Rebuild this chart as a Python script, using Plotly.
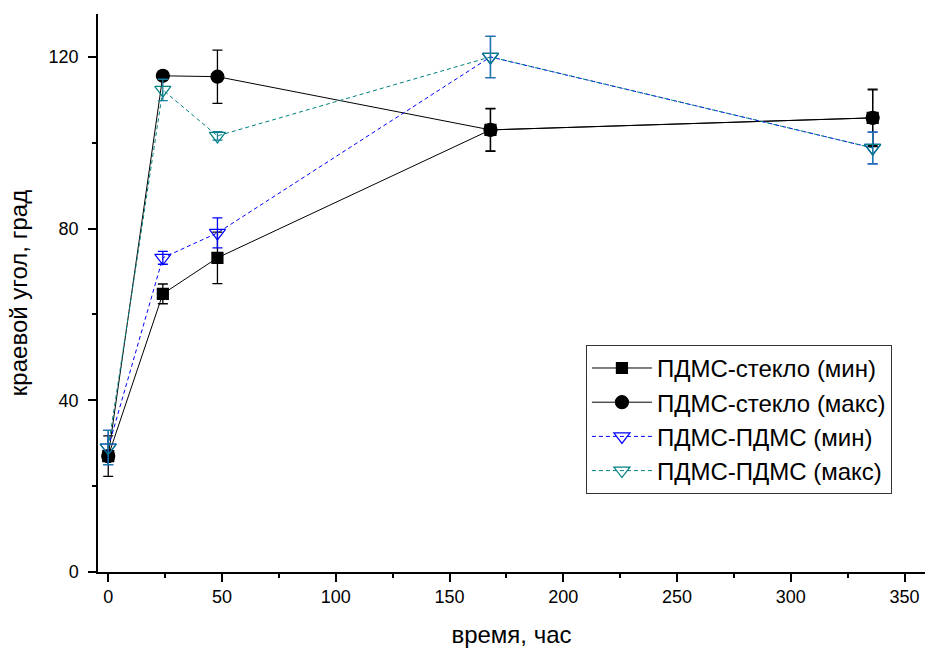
import plotly.graph_objects as go

hours = [0, 24, 48, 168, 336]

glass_min = [27.0, 64.8, 73.2, 103.0, 105.8]
glass_min_err = [4.7, 2.3, 6.0, 5.0, 6.5]

glass_max = [27.0, 115.6, 115.4, 103.0, 105.8]
glass_max_err = [1.0, 1.0, 6.2, 4.9, 6.7]

pdms_min = [29.0, 73.2, 79.0, 120.0, 98.8]
pdms_min_err = [4.0, 1.5, 3.5, 4.8, 3.7]

pdms_max = [29.0, 112.3, 101.6, 120.0, 98.8]
pdms_max_err = [4.0, 2.5, 1.0, 4.8, 3.7]

names = ["ПДМС-стекло (мин)", "ПДМС-стекло (макс)", "ПДМС-ПДМС (мин)", "ПДМС-ПДМС (макс)"]

fig = go.Figure()

def add(y, err, name, color, symbol, size, dash, errcolor, fill):
    fig.add_trace(go.Scatter(
        x=hours, y=y, name=name, mode="lines+markers",
        line=dict(color=color, width=1, dash=dash),
        marker=dict(symbol=symbol, size=size, color=fill,
                    line=dict(color=color, width=1.2)),
        error_y=dict(type="data", array=err, visible=True, color=errcolor,
                     thickness=1.3, width=5),
    ))

add(glass_min, glass_min_err, names[0], "black", "square", 11, "solid", "black", "black")
add(glass_max, glass_max_err, names[1], "black", "circle", 13, "solid", "black", "black")
add(pdms_min, pdms_min_err, names[2], "#0000ff", "triangle-down", 14, "4px,3px", "#0000ff", "rgba(255,255,255,0)")
add(pdms_max, pdms_max_err, names[3], "#008080", "triangle-down", 14, "4px,3px", "#1a7f9f", "rgba(255,255,255,0)")

font = "Liberation Sans, Arial, sans-serif"

fig.update_layout(
    width=928, height=648,
    margin=dict(l=98, r=3, t=14, b=76),
    paper_bgcolor="white", plot_bgcolor="white",
    font=dict(family=font, color="black", size=18),
    showlegend=True,
    legend=dict(
        x=0.59, y=0.407, xanchor="left", yanchor="top",
        bgcolor="white", bordercolor="#333333", borderwidth=1,
        font=dict(size=24, family=font, color="black"),
        tracegroupgap=0, itemwidth=60,
    ),
)

fig.update_xaxes(
    range=[-4.5, 359], showline=True, linecolor="black", linewidth=1.5,
    ticks="outside", ticklen=8, tickwidth=1.5, tickcolor="black",
    tickvals=[0, 50, 100, 150, 200, 250, 300, 350],
    minor=dict(ticks="outside", ticklen=4, tickwidth=1.5, tickcolor="black", dtick=25, tick0=0, showgrid=False),
    showgrid=False, zeroline=False,
    title=dict(text="время, час", font=dict(size=24), standoff=20),
    tickfont=dict(size=18),
)
fig.update_yaxes(
    range=[0, 130], showline=True, linecolor="black", linewidth=1.5,
    ticks="outside", ticklen=8, tickwidth=1.5, tickcolor="black",
    tickvals=[0, 40, 80, 120],
    minor=dict(ticks="outside", ticklen=4, tickwidth=1.5, tickcolor="black", dtick=20, tick0=0, showgrid=False),
    showgrid=False, zeroline=False,
    ticklabelstandoff=6,
    title=dict(text="краевой угол, град", font=dict(size=24), standoff=14),
    tickfont=dict(size=18),
)

fig.write_html("out.html")
